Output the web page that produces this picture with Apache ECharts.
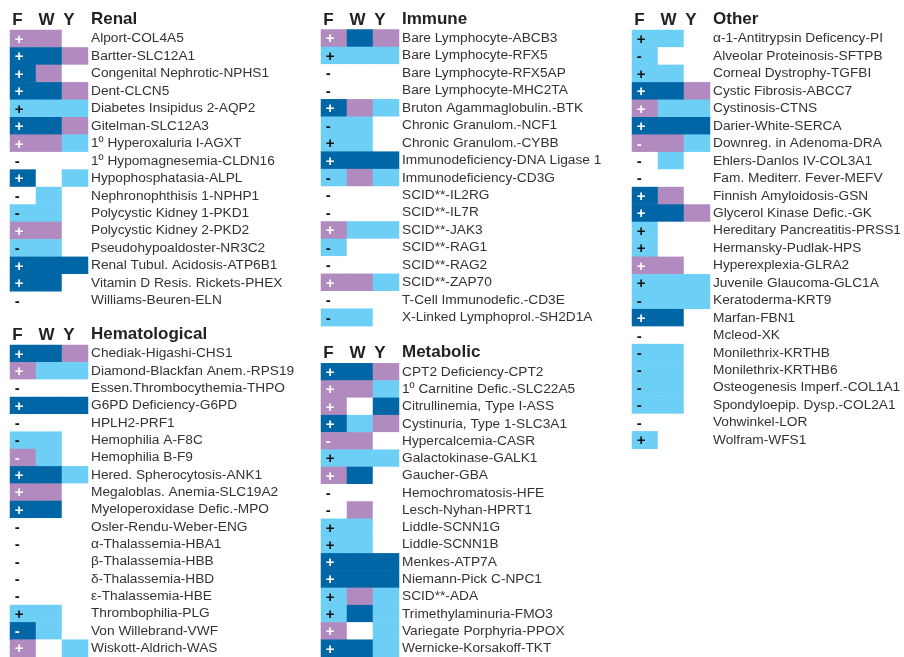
<!DOCTYPE html>
<html>
<head>
<meta charset="utf-8">
<script src="https://cdn.jsdelivr.net/npm/echarts@6/dist/echarts.min.js"></script>
<style>
  html, body { margin: 0; padding: 0; background: #fff; }
  #main { width: 904px; height: 657px; }
</style>
</head>
<body>
<div id="main"></div>
<script>
// 列: F, W, Y
var cols = ['F', 'W', 'Y']

// 单元格编码: 0 = 空, D = 深蓝, L = 浅蓝, P = 紫
var renalNames = ['Alport-COL4A5', 'Bartter-SLC12A1', 'Congenital Nephrotic-NPHS1', 'Dent-CLCN5',
  'Diabetes Insipidus 2-AQP2', 'Gitelman-SLC12A3', '1º Hyperoxaluria I-AGXT', '1º Hypomagnesemia-CLDN16',
  'Hypophosphatasia-ALPL', 'Nephronophthisis 1-NPHP1', 'Polycystic Kidney 1-PKD1', 'Polycystic Kidney 2-PKD2',
  'Pseudohypoaldoster-NR3C2', 'Renal Tubul. Acidosis-ATP6B1', 'Vitamin D Resis. Rickets-PHEX', 'Williams-Beuren-ELN']
var renalSigns = ['+', '+', '+', '+', '+', '+', '+', '-', '+', '-', '-', '+', '-', '+', '+', '-']
var renalCells = ['PP0', 'DDP', 'DP0', 'DDP', 'LLL', 'DDP', 'PPL', '000', 'D0L', '0L0', 'LL0', 'PP0', 'LL0', 'DDD', 'DD0', '000']

var hemaNames = ['Chediak-Higashi-CHS1', 'Diamond-Blackfan Anem.-RPS19', 'Essen.Thrombocythemia-THPO',
  'G6PD Deficiency-G6PD', 'HPLH2-PRF1', 'Hemophilia A-F8C', 'Hemophilia B-F9', 'Hered. Spherocytosis-ANK1',
  'Megaloblas. Anemia-SLC19A2', 'Myeloperoxidase Defic.-MPO', 'Osler-Rendu-Weber-ENG', 'α-Thalassemia-HBA1',
  'β-Thalassemia-HBB', 'δ-Thalassemia-HBD', 'ε-Thalassemia-HBE', 'Thrombophilia-PLG', 'Von Willebrand-VWF',
  'Wiskott-Aldrich-WAS']
var hemaSigns = ['+', '+', '-', '+', '-', '-', '-', '+', '+', '+', '-', '-', '-', '-', '-', '+', '-', '+']
var hemaCells = ['DDP', 'PLL', '000', 'DDD', '000', 'LL0', 'PL0', 'DDL', 'PP0', 'DD0', '000', '000', '000', '000', '000', 'LL0', 'DL0', 'P0L']

var immuneNames = ['Bare Lymphocyte-ABCB3', 'Bare Lymphocyte-RFX5', 'Bare Lymphocyte-RFX5AP',
  'Bare Lymphocyte-MHC2TA', 'Bruton Agammaglobulin.-BTK', 'Chronic Granulom.-NCF1', 'Chronic Granulom.-CYBB',
  'Immunodeficiency-DNA Ligase 1', 'Immunodeficiency-CD3G', 'SCID**-IL2RG', 'SCID**-IL7R', 'SCID**-JAK3',
  'SCID**-RAG1', 'SCID**-RAG2', 'SCID**-ZAP70', 'T-Cell Immunodefic.-CD3E', 'X-Linked Lymphoprol.-SH2D1A']
var immuneSigns = ['+', '+', '-', '-', '+', '-', '+', '+', '-', '-', '-', '+', '-', '-', '+', '-', '-']
var immuneCells = ['PDP', 'LLL', '000', '000', 'DPL', 'LL0', 'LL0', 'DDD', 'LPL', '000', '000', 'PLL', 'L00', '000', 'PPL', '000', 'LL0']

var metaNames = ['CPT2 Deficiency-CPT2', '1º Carnitine Defic.-SLC22A5', 'Citrullinemia, Type I-ASS',
  'Cystinuria, Type 1-SLC3A1', 'Hypercalcemia-CASR', 'Galactokinase-GALK1', 'Gaucher-GBA', 'Hemochromatosis-HFE',
  'Lesch-Nyhan-HPRT1', 'Liddle-SCNN1G', 'Liddle-SCNN1B', 'Menkes-ATP7A', 'Niemann-Pick C-NPC1', 'SCID**-ADA',
  'Trimethylaminuria-FMO3', 'Variegate Porphyria-PPOX', 'Wernicke-Korsakoff-TKT']
var metaSigns = ['+', '+', '+', '+', '-', '+', '+', '-', '-', '+', '+', '+', '+', '+', '+', '+', '+']
var metaCells = ['DDP', 'PPL', 'P0D', 'DLP', 'PP0', 'LLL', 'PD0', '000', '0P0', 'LL0', 'LL0', 'DDD', 'DDD', 'LPL', 'LDL', 'P0L', 'DDL']

var otherNames = ['α-1-Antitrypsin Deficency-PI', 'Alveolar Proteinosis-SFTPB', 'Corneal Dystrophy-TGFBI',
  'Cystic Fibrosis-ABCC7', 'Cystinosis-CTNS', 'Darier-White-SERCA', 'Downreg. in Adenoma-DRA',
  'Ehlers-Danlos IV-COL3A1', 'Fam. Mediterr. Fever-MEFV', 'Finnish Amyloidosis-GSN', 'Glycerol Kinase Defic.-GK',
  'Hereditary Pancreatitis-PRSS1', 'Hermansky-Pudlak-HPS', 'Hyperexplexia-GLRA2', 'Juvenile Glaucoma-GLC1A',
  'Keratoderma-KRT9', 'Marfan-FBN1', 'Mcleod-XK', 'Monilethrix-KRTHB', 'Monilethrix-KRTHB6',
  'Osteogenesis Imperf.-COL1A1', 'Spondyloepip. Dysp.-COL2A1', 'Vohwinkel-LOR', 'Wolfram-WFS1']
var otherSigns = ['+', '-', '+', '+', '+', '+', '-', '-', '-', '+', '+', '+', '+', '+', '+', '-', '+', '-', '-', '-', '-', '-', '-', '+']
var otherCells = ['LL0', 'L00', 'LL0', 'DDP', 'PLL', 'DDD', 'PPL', '0L0', '000', 'DP0', 'DDP', 'L00', 'L00', 'PP0', 'LLL', 'LLL', 'DD0', '000', 'LL0', 'LL0', 'LL0', 'LL0', '000', 'L00']

var FONT = '"Liberation Sans", Arial, Helvetica, sans-serif'
var ROW = 17.45
var CELL = 26
var codeColor = { 0: '#ffffff', D: '#0066a6', L: '#6dcff6', P: '#b18bbf' }
var codeValue = { 0: 0, D: 1, L: 2, P: 3 }

var groups = [
  { title: 'Renal', names: renalNames, signs: renalSigns, cells: renalCells, left: 10, top: 30 },
  { title: 'Hematological', names: hemaNames, signs: hemaSigns, cells: hemaCells, left: 10, top: 345 },
  { title: 'Immune', names: immuneNames, signs: immuneSigns, cells: immuneCells, left: 321, top: 29.5 },
  { title: 'Metabolic', names: metaNames, signs: metaSigns, cells: metaCells, left: 321, top: 363.3 },
  { title: 'Other', names: otherNames, signs: otherSigns, cells: otherCells, left: 632, top: 30 }
]

function buildData(g) {
  var data = []
  g.names.forEach(function(name, row) {
    var codes = g.cells[row]
    for (var c = 0; c < 3; c++) {
      var code = codes.charAt(c)
      var item = { value: [c, row, codeValue[code]] }
      if (c === 0) {
        var dark = code === 'D' || code === 'P'
        item.label = {
          show: true,
          formatter: g.signs[row],
          color: dark ? '#ffffff' : '#111111'
        }
      }
      data.push(item)
    }
  })
  return data
}

var chart = echarts.init(document.getElementById('main'), null, { renderer: 'canvas' })

var headStyle = { fontFamily: FONT, fontSize: 17, fontWeight: 'bold', color: '#222' }

var option = {
  animation: false,
  backgroundColor: '#fff',
  title: groups.map(function(g) {
    return {
      text: g.title,
      left: g.left + 81,
      top: g.top - 19,
      padding: 0,
      textStyle: headStyle
    }
  }),
  grid: groups.map(function(g) {
    return { left: g.left, top: g.top, width: CELL * 3, height: ROW * g.names.length }
  }),
  xAxis: groups.map(function(g, i) {
    return {
      type: 'category',
      gridIndex: i,
      data: cols,
      position: 'top',
      axisLine: { show: false },
      axisTick: { show: false },
      splitLine: { show: false },
      axisLabel: {
        interval: 0,
        hideOverlap: false,
        margin: 1,
        formatter: function(v) { return '{' + v + '|' + v + '}' },
        rich: {
          F: Object.assign({ padding: [0, 11, 0, 0] }, headStyle),
          W: Object.assign({ padding: [0, 5, 0, 0] }, headStyle),
          Y: Object.assign({ padding: [0, 12, 0, 0] }, headStyle)
        }
      }
    }
  }),
  yAxis: groups.map(function(g, i) {
    return {
      type: 'category',
      gridIndex: i,
      data: g.names,
      inverse: true,
      position: 'right',
      axisLine: { show: false },
      axisTick: { show: false },
      splitLine: { show: false },
      axisLabel: {
        interval: 0,
        align: 'left',
        margin: 3,
        fontFamily: FONT,
        fontSize: 13.7,
        color: '#333'
      }
    }
  }),
  visualMap: {
    type: 'piecewise',
    show: false,
    dimension: 2,
    seriesIndex: [0, 1, 2, 3, 4],
    pieces: [
      { value: 0, color: codeColor[0] },
      { value: 1, color: codeColor.D },
      { value: 2, color: codeColor.L },
      { value: 3, color: codeColor.P }
    ]
  },
  series: groups.map(function(g, i) {
    return {
      type: 'heatmap',
      xAxisIndex: i,
      yAxisIndex: i,
      data: buildData(g),
      label: {
        show: false,
        position: 'insideLeft',
        distance: 5,
        offset: [0, 1],
        fontFamily: FONT,
        fontSize: 15,
        fontWeight: 'bold'
      },
      emphasis: { disabled: true }
    }
  })
}

chart.setOption(option)
</script>
</body>
</html>
